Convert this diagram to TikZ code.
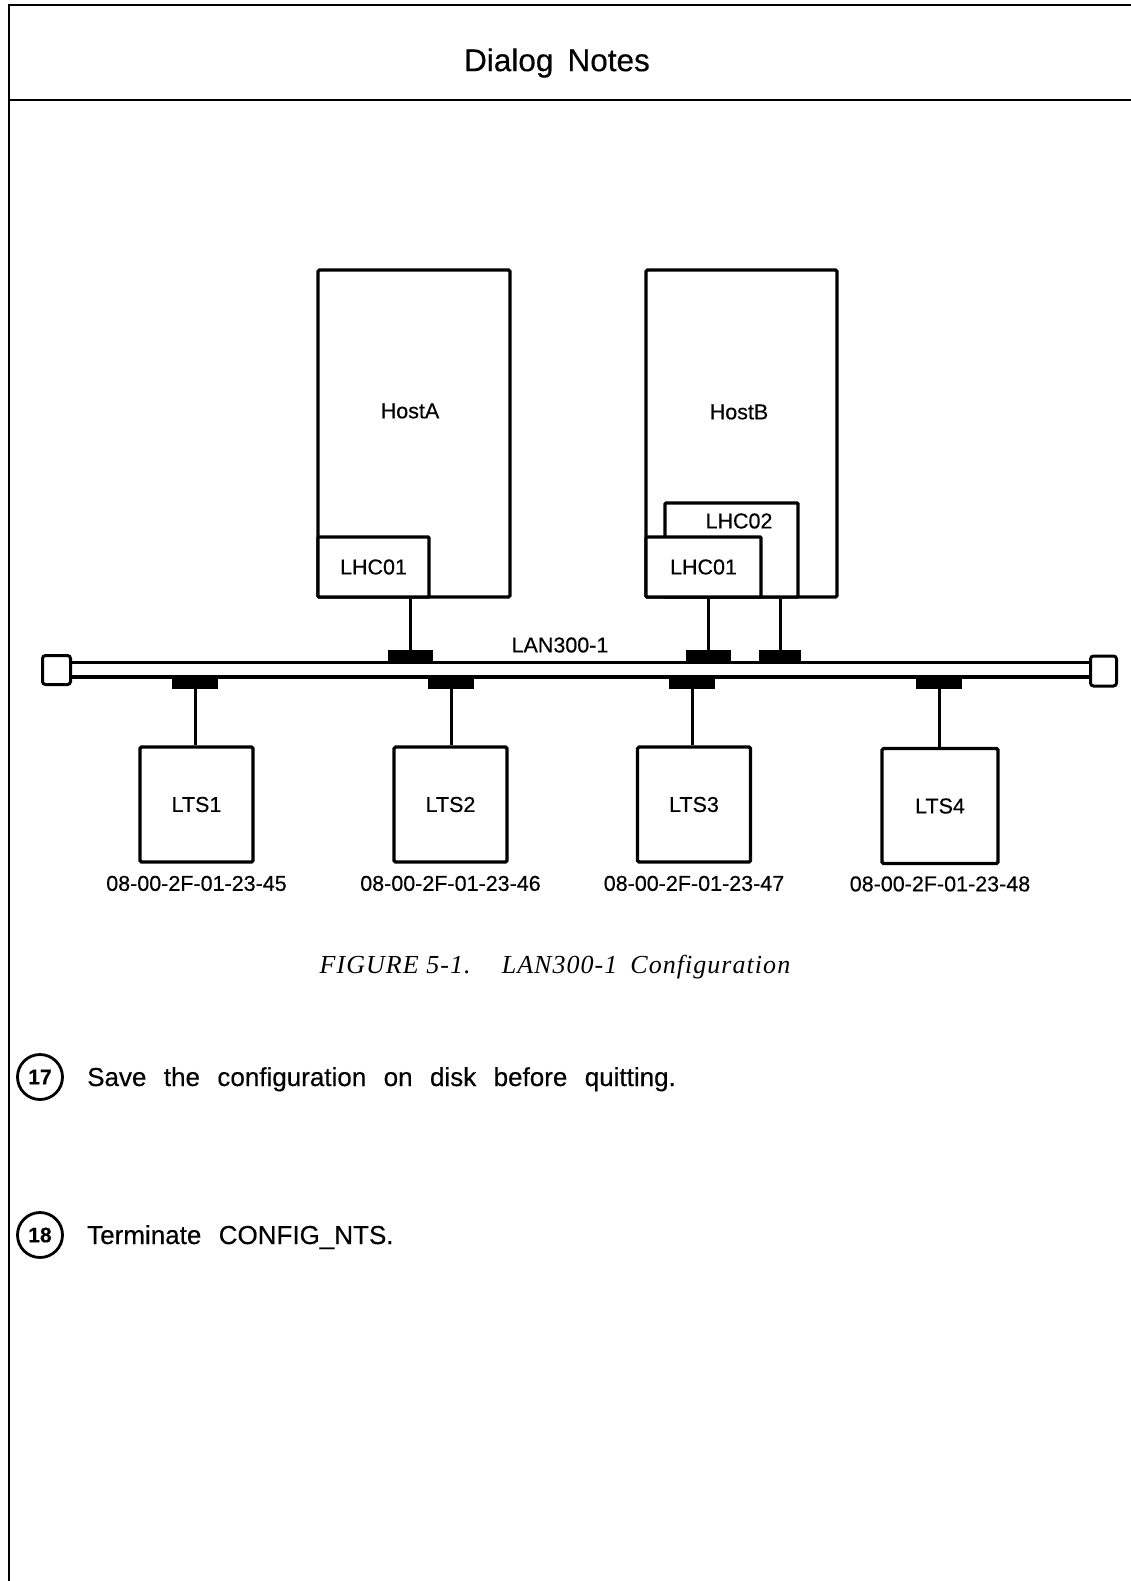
\documentclass[tikz,border=0pt]{standalone}
\usepackage{fontspec}
\setmainfont[FakeBold=0.35]{Liberation Sans}
\newfontfamily\figcapfont[LetterSpace=4]{Liberation Serif}
\usetikzlibrary{positioning}
\newcommand{\LblFont}{\fontsize{21.5}{24}\selectfont}
\newcommand{\BodyFont}{\fontsize{26}{30}\selectfont\spaceskip=0.67em plus 0.1em\relax}

\begin{document}
\begin{tikzpicture}[x=1pt,y=-1pt,
  hostbox/.style={draw,line width=3.2pt,rounded corners=1.5pt,minimum width=192pt,minimum height=327pt,inner sep=0pt},
  cardbox/.style={draw,fill=white,line width=3.2pt,rounded corners=1pt,inner sep=0pt,font=\LblFont},
  ltsbox/.style={draw,line width=3.2pt,rounded corners=1.5pt,minimum width=113pt,minimum height=115pt,inner sep=0pt,font=\LblFont},
  tapblk/.style={fill=black,minimum width=45pt,minimum height=12pt,inner sep=0pt},
  buscap/.style={draw,line width=3pt,rounded corners=3pt,minimum width=28pt,minimum height=29pt,inner sep=0pt},
  lbl/.style={font=\LblFont,inner sep=2pt},
  stepnum/.style={circle,draw,line width=2.8pt,minimum size=45pt,inner sep=0pt,font=\bfseries\fontsize{21}{22}\selectfont}]
\useasboundingbox (0,0) rectangle (1131,1581);

% page frame and heading
\draw[line width=2.8pt] (9,1581) -- (9,5) -- (1131,5);
\draw[line width=2.8pt] (9,100) -- (1131,100);
\node[font=\fontsize{31.5}{34}\selectfont] (title) at (557,63) {Dialog\hspace{0.45em}Notes};

% hosts
\node[hostbox] (hostA) at (414,433.5) {};
\node[lbl] at (410,411) {HostA};
\node[cardbox,minimum width=111pt,minimum height=60pt,anchor=south west] (lhcA) at (hostA.south west) {LHC01};

\node[hostbox,minimum width=191pt] (hostB) at (741.5,433.5) {};
\node[lbl] at (739,412) {HostB};
\node[cardbox,minimum width=133pt,minimum height=94pt,anchor=south west] (lhcB2) at ([xshift=19pt]hostB.south west) {};
\node[lbl] at (739,521) {LHC02};
\node[cardbox,minimum width=115pt,minimum height=60pt,anchor=south west] (lhcB1) at (hostB.south west) {LHC01};

% the LAN
\node[buscap] (capL) at (56.5,670) {};
\node[buscap,minimum width=26pt,minimum height=30pt] (capR) at (1103.5,671) {};
\node[tapblk] (tapA) at (410,656) {};
\node[tapblk] (tapB1) at (708,656) {};
\node[tapblk,minimum width=42pt] (tapB2) at (780,656) {};
\node[tapblk,minimum width=46pt] (tap1) at (195,683) {};
\node[tapblk,minimum width=46pt] (tap2) at (451,683) {};
\node[tapblk,minimum width=46pt] (tap3) at (692,683) {};
\node[tapblk,minimum width=46pt] (tap4) at (939,683) {};
\draw[line width=3.4pt] (capL.east |- tapA.south) -- (capR.west |- tapA.south);
\draw[line width=3.4pt] (capL.east |- tap1.north) -- (capR.west |- tap1.north);
\node[lbl] (lan) at (560,645) {LAN300-1};

\draw[line width=3pt] (tapA.north) -- (tapA.north |- lhcA.south);
\draw[line width=3pt] (tapB1.north) -- (tapB1.north |- lhcB1.south);
\draw[line width=3pt] (tapB2.north) -- (tapB2.north |- lhcB2.south);

% terminal servers
\node[ltsbox] (lts1) at (196.5,804.5) {LTS1};
\node[ltsbox] (lts2) at (450.5,804.5) {LTS2};
\node[ltsbox] (lts3) at (694,804.5) {LTS3};
\node[ltsbox,minimum width=116pt] (lts4) at (940,806) {LTS4};
\foreach \n in {1,2,3,4}
  \draw[line width=3pt] (tap\n.south) -- (tap\n.south |- lts\n.north);
\node[lbl,below=10pt of lts1] (mac1) {08-00-2F-01-23-45};
\node[lbl,below=10pt of lts2] (mac2) {08-00-2F-01-23-46};
\node[lbl,below=10pt of lts3] (mac3) {08-00-2F-01-23-47};
\node[lbl,below=9pt of lts4] (mac4) {08-00-2F-01-23-48};

\node[font=\figcapfont\itshape\fontsize{26}{30}\selectfont] (figcap) at (555,967)
  {FIGURE 5-1.\hspace{1.2em}LAN300-1\hspace{0.5em}Configuration};

% dialog steps
\node[stepnum] (num17) at (40,1077) {17};
\node[anchor=base west,inner sep=0pt,font=\BodyFont] (step17) at (87,1086) {Save the configuration on disk before quitting.};
\node[stepnum] (num18) at (40,1235) {18};
\node[anchor=base west,inner sep=0pt,font=\BodyFont] (step18) at (87,1244) {Terminate CONFIG\_NTS.};
\end{tikzpicture}
\end{document}
